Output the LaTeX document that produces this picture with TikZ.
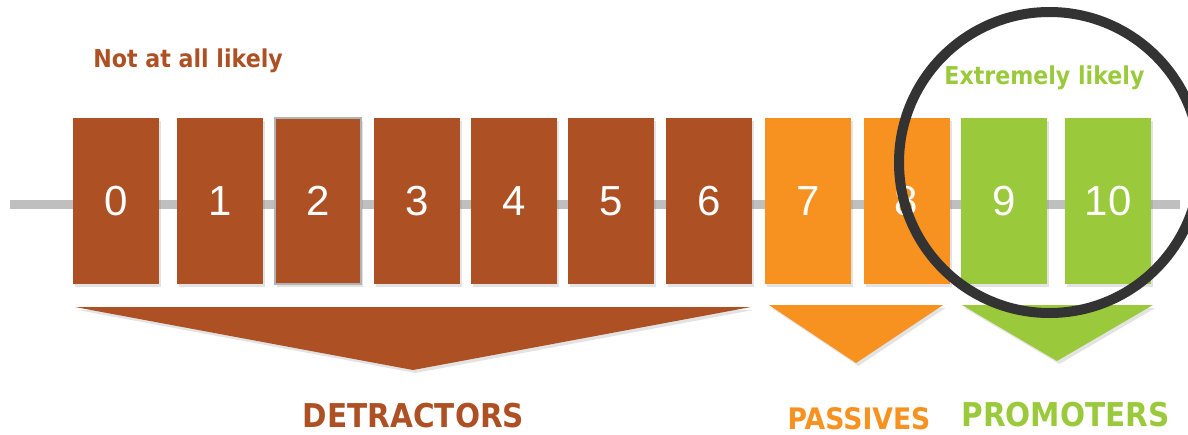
\documentclass[tikz,border=0pt]{standalone}
\usepackage{fontspec}
\setmainfont{DejaVu Sans}
\newfontfamily\labelfont[FakeStretch=0.9]{DejaVu Sans}
\newfontfamily\digitfont{Liberation Sans}
\usetikzlibrary{positioning, shadows}

\definecolor{detrbrown}{HTML}{AD5125}
\definecolor{passorange}{HTML}{F79120}
\definecolor{promgreen}{HTML}{9ACA3C}
\definecolor{axisgray}{HTML}{BFBFBF}
\definecolor{ringgray}{HTML}{333333}

\begin{document}
\begin{tikzpicture}[
    x=0.5pt, y=-0.5pt,
    softshadow/.style={drop shadow={opacity=0.22, shadow xshift=1.2pt, shadow yshift=-1.5pt}},
    score/.style={minimum width=43pt, minimum height=83pt, inner sep=0pt,
        text=white, font=\digitfont\fontsize{21}{21}\selectfont, softshadow},
    band/.style={softshadow},
    tag/.style={inner sep=0pt, anchor=base west, font=\labelfont\bfseries\fontsize{12.3}{14}\selectfont},
    group/.style={inner sep=0pt, anchor=base, font=\labelfont\bfseries\fontsize{16.4}{18}\selectfont}
]
\useasboundingbox (0,0) rectangle (1188,434);

% Scale axis behind the boxes
\coordinate (axisL) at (10,204.5);
\coordinate (axisR) at (1180,204.5);
\draw[axisgray, line width=4.5pt] (axisL) -- (axisR);

% Score boxes 0..10
\foreach \n/\x/\col in {0/116/detrbrown, 1/220/detrbrown, 3/417/detrbrown,
    4/514/detrbrown, 5/611/detrbrown, 6/709/detrbrown, 7/808/passorange,
    8/906.5/passorange, 9/1004/promgreen, 10/1108/promgreen}
    { \node[score, fill=\col] (s\n) at (\x,201) {\n}; }
\node[score, fill=detrbrown, draw=black!30, line width=0.8pt] (s2) at (318,201) {2};

% End labels
\node[tag, text=detrbrown] (low) at (93,67.5) {Not at all likely};
\node[tag, text=promgreen] (high) at (944,84) {Extremely likely};

% Group chevrons
\fill[detrbrown, band] (75,307) -- (751,307) -- (413,370) -- cycle;
\fill[passorange, band] (769,305) -- (943,305) -- (856,363) -- cycle;
\fill[promgreen, band] (962,305) -- (1153,305) -- (1057,361) -- cycle;

\node[group, text=detrbrown] (detr) at (413.5,427) {DETRACTORS};
\node[group, text=passorange, font=\labelfont\bfseries\fontsize{14.8}{16}\selectfont] (pass) at (859,429) {PASSIVES};
\node[group, text=promgreen] (prom) at (1065.5,426.5) {PROMOTERS};

% Ring round the top scores
\draw[ringgray, line width=5pt] (1049.5,162.5) circle (150.5);
\end{tikzpicture}
\end{document}
